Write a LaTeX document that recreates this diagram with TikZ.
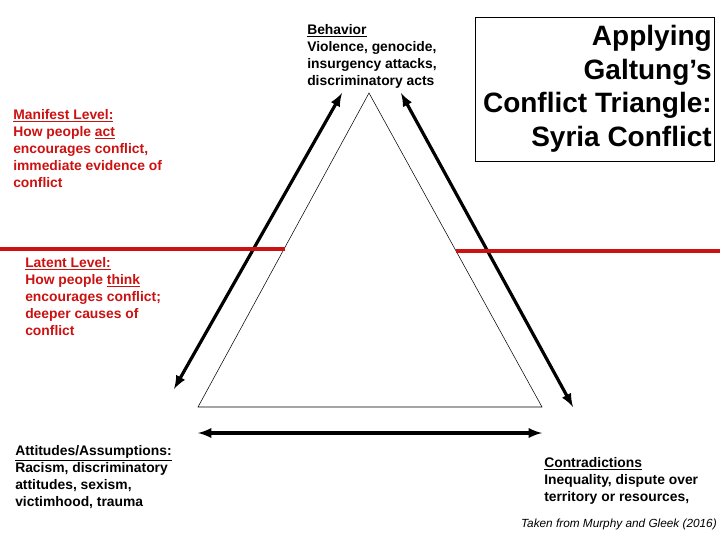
\documentclass[tikz,border=0pt]{standalone}
\usepackage{fontspec}
\setmainfont{Liberation Sans}
\usepackage{tikz}
\usetikzlibrary{arrows, positioning}
\definecolor{lvlred}{RGB}{204,17,17}
\tikzset{txt/.style={anchor=north west, inner sep=0pt, align=left, font=\fontsize{10.4}{12.75}\selectfont\bfseries}}
\tikzset{bigarr/.style={line width=2.4pt, latex-latex}}

\begin{document}
\begin{tikzpicture}[x=0.75pt, y=-0.75pt]
                    \useasboundingbox (0, 0) rectangle (720, 540);

                    % triangle
                    \coordinate (apex) at (369, 93);
                    \coordinate (bl) at (198, 407);
                    \coordinate (br) at (542, 407);
                    \draw[thin] (apex) -- (bl) -- (br) -- cycle;

                    % arrows along the sides
                    \coordinate (la) at (342, 93);
                    \coordinate (lb) at (174, 389);
                    \coordinate (ra) at (401, 93);
                    \coordinate (rb) at (573, 407);
                    \coordinate (ba) at (198, 433);
                    \coordinate (bb) at (542, 433);
                    \draw[bigarr] (la) -- (lb);
                    \draw[bigarr] (ra) -- (rb);
                    \draw[bigarr] (ba) -- (bb);

                    % level lines
                    \draw[line width=2.4pt, lvlred]
                    (0, 249) -- (285, 249)
                    (456, 251) -- (720, 251);

                    % title
                    \draw[thin] (475, 17) rectangle (714, 161);
                    \node[anchor=north east, inner sep=0pt, align=right, font=\fontsize{21}{25.2}\selectfont\bfseries] (title) at (712, 25)
                    {Applying\\Galtung’s\\Conflict Triangle:\\Syria Conflict};

                    % labels
                    \node[txt] (behav) at (307, 24)
                    {\underline{Behavior}\\Violence, genocide,\\insurgency attacks,\\discriminatory acts};
                    \node[txt, text=lvlred] (manif) at (13, 109)
                    {\underline{Manifest Level:}\\How people \underline{act}\\encourages conflict,\\immediate evidence of\\conflict};
                    \node[txt, text=lvlred] (latent) at (25, 257)
                    {\underline{Latent Level:}\\How people \underline{think}\\encourages conflict;\\deeper causes of\\conflict};
                    \node[txt] (attit) at (15, 445)
                    {\underline{Attitudes/Assumptions:}\\Racism, discriminatory\\attitudes, sexism,\\victimhood, trauma};
                    \node[txt] (contra) at (544, 457)
                    {\underline{Contradictions}\\Inequality, dispute over\\territory or resources,};
                    \node[anchor=north east, inner sep=0pt, font=\fontsize{8.85}{11}\selectfont\itshape] (source) at (717, 519)
                    {Taken from Murphy and Gleek (2016)};
                \end{tikzpicture}
\end{document}
